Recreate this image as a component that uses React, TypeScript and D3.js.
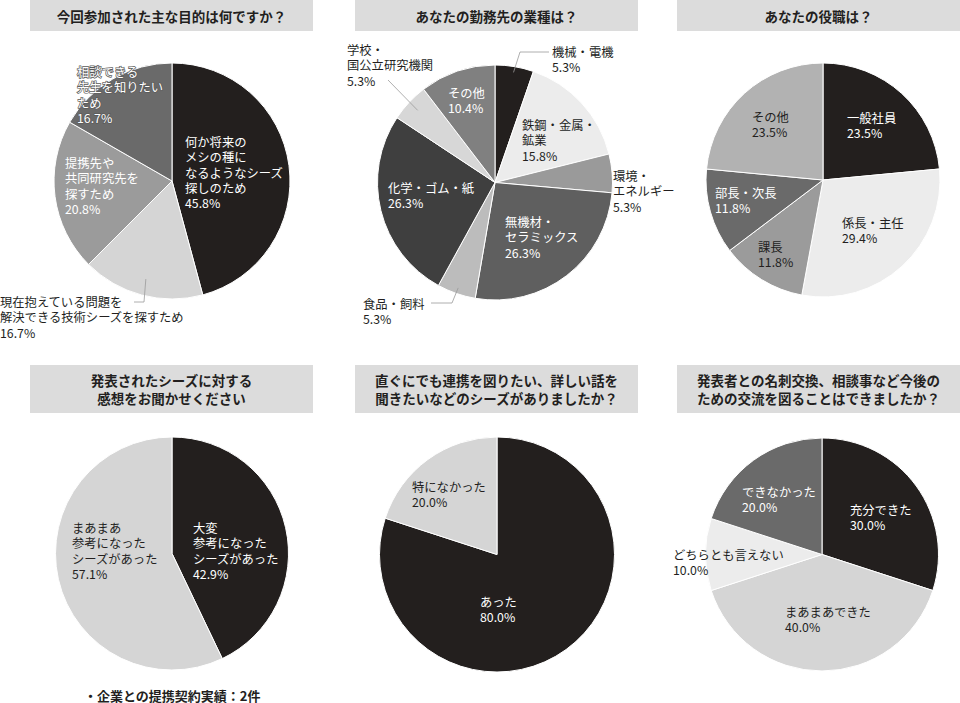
import * as d3 from "d3";

// ---- data ----
const q1Title = ["今回参加された主な目的は何ですか？"];
const q1Categories = [
  ["何か将来の", "メシの種に", "なるようなシーズ", "探しのため"],
  ["現在抱えている問題を", "解決できる技術シーズを探すため"],
  ["提携先や", "共同研究先を", "探すため"],
  ["相談できる", "先生を知りたい", "ため"],
];
const q1Values = [45.8, 16.7, 20.8, 16.7];

const q2Title = ["あなたの勤務先の業種は？"];
const q2Categories = [
  ["機械・電機"],
  ["鉄鋼・金属・", "鉱業"],
  ["環境・", "エネルギー"],
  ["無機材・", "セラミックス"],
  ["食品・飼料"],
  ["化学・ゴム・紙"],
  ["学校・", "国公立研究機関"],
  ["その他"],
];
const q2Values = [5.3, 15.8, 5.3, 26.3, 5.3, 26.3, 5.3, 10.4];

const q3Title = ["あなたの役職は？"];
const q3Categories = [["一般社員"], ["係長・主任"], ["課長"], ["部長・次長"], ["その他"]];
const q3Values = [23.5, 29.4, 11.8, 11.8, 23.5];

const q4Title = ["発表されたシーズに対する", "感想をお聞かせください"];
const q4Categories = [
  ["大変", "参考になった", "シーズがあった"],
  ["まあまあ", "参考になった", "シーズがあった"],
];
const q4Values = [42.9, 57.1];
const q4Note = "・企業との提携契約実績：2件";

const q5Title = ["直ぐにでも連携を図りたい、詳しい話を", "聞きたいなどのシーズがありましたか？"];
const q5Categories = [["あった"], ["特になかった"]];
const q5Values = [80.0, 20.0];

const q6Title = ["発表者との名刺交換、相談事など今後の", "ための交流を図ることはできましたか？"];
const q6Categories = [["充分できた"], ["まあまあできた"], ["どちらとも言えない"], ["できなかった"]];
const q6Values = [30.0, 40.0, 10.0, 20.0];

// ---- layout / style ----
const INK = "#231f1e";
const WHITE = "#ffffff";
const FONT = '"Noto Sans CJK JP", "Noto Sans", sans-serif';
const LINE_H = 15.3;

interface LabelPos {
  x: number;
  y: number;
  color: string;
  outline?: string;
  leader?: { from: [number, number]; elbow?: [number, number]; depth: number };
}

interface Panel {
  title: string[];
  categories: string[][];
  values: number[];
  colors: string[];
  cx: number;
  cy: number;
  r: number;
  box: [number, number, number, number];
  labels: LabelPos[];
}

const panels: Panel[] = [
  {
    title: q1Title,
    categories: q1Categories,
    values: q1Values,
    colors: [INK, "#d5d5d5", "#9b9b9b", "#6a6a6a"],
    cx: 172,
    cy: 181,
    r: 118,
    box: [30, 0, 283, 31],
    labels: [
      { x: 185, y: 142, color: WHITE },
      { x: 0, y: 302, color: INK, leader: { from: [134, 302], elbow: [144, 302], depth: 0.86 } },
      { x: 65, y: 163, color: WHITE },
      // this label spills past the pie edge, the original keeps it readable with a dark rim
      { x: 77, y: 72, color: WHITE, outline: "#5a5a5a" },
    ],
  },
  {
    title: q2Title,
    categories: q2Categories,
    values: q2Values,
    colors: [INK, "#ececec", "#9a9a9a", "#5f5f5f", "#bcbcbc", "#3f3f3f", "#d7d7d7", "#808080"],
    cx: 495,
    cy: 182.5,
    r: 117.5,
    box: [355, 0, 283, 31],
    labels: [
      { x: 552, y: 52, color: INK, leader: { from: [549, 52], elbow: [520, 52], depth: 0.95 } },
      { x: 522, y: 125, color: INK },
      { x: 613, y: 176, color: INK, leader: { from: [611, 176], depth: 0.92 } },
      { x: 505, y: 222, color: WHITE },
      { x: 363, y: 304, color: INK, leader: { from: [431, 303], elbow: [452, 303], depth: 0.95 } },
      { x: 388, y: 188, color: WHITE },
      { x: 347, y: 50, color: INK, leader: { from: [388, 80], depth: 0.9 } },
      { x: 448, y: 93, color: WHITE },
    ],
  },
  {
    title: q3Title,
    categories: q3Categories,
    values: q3Values,
    colors: [INK, "#ececec", "#9b9b9b", "#6a6a6a", "#b2b2b2"],
    cx: 823,
    cy: 180,
    r: 117,
    box: [677, 0, 283, 31],
    labels: [
      { x: 847, y: 118, color: WHITE },
      { x: 842, y: 223, color: INK },
      { x: 758, y: 247, color: INK },
      { x: 715, y: 193, color: WHITE },
      { x: 752, y: 117, color: INK },
    ],
  },
  {
    title: q4Title,
    categories: q4Categories,
    values: q4Values,
    colors: [INK, "#d5d5d5"],
    cx: 172,
    cy: 553.5,
    r: 116.5,
    box: [30, 365, 283, 48],
    labels: [
      { x: 193, y: 528, color: WHITE },
      { x: 72, y: 528, color: INK },
    ],
  },
  {
    title: q5Title,
    categories: q5Categories,
    values: q5Values,
    colors: [INK, "#d5d5d5"],
    cx: 497,
    cy: 554.5,
    r: 117.5,
    box: [355, 365, 283, 48],
    labels: [
      { x: 480, y: 602, color: WHITE },
      { x: 412, y: 487, color: INK },
    ],
  },
  {
    title: q6Title,
    categories: q6Categories,
    values: q6Values,
    colors: [INK, "#d5d5d5", "#ececec", "#6a6a6a"],
    cx: 822,
    cy: 554.5,
    r: 116.5,
    box: [677, 365, 283, 48],
    labels: [
      { x: 850, y: 510, color: WHITE },
      { x: 785, y: 612, color: INK },
      { x: 673, y: 555, color: INK },
      { x: 742, y: 492, color: WHITE },
    ],
  },
];

const pie = d3
  .pie<number>()
  .value((d) => d)
  .sort(null);

const PiePanel = ({ p }: { p: Panel }) => {
  const arcs = pie(p.values);
  const arc = d3.arc<d3.PieArcDatum<number>>().innerRadius(0).outerRadius(p.r);
  const [bx, by, bw, bh] = p.box;
  const titleTop = by + bh / 2 - ((p.title.length - 1) * 18) / 2;

  return (
    <g>
      <rect x={bx} y={by} width={bw} height={bh} fill="#dcdcdc" />
      {p.title.map((t, i) => (
        <text
          key={i}
          x={bx + bw / 2}
          y={titleTop + i * 18}
          textAnchor="middle"
          dominantBaseline="central"
          fontSize={13.5}
          fontWeight="bold"
          fill={INK}
        >
          {t}
        </text>
      ))}
      <g transform={`translate(${p.cx},${p.cy})`}>
        {arcs.map((a, i) => (
          <path key={i} d={arc(a) ?? ""} fill={p.colors[i]} stroke="#fff" strokeWidth={1} />
        ))}
      </g>
      {arcs.map((a, i) => {
        const lp = p.labels[i];
        const lines = [...p.categories[i], `${p.values[i].toFixed(1)}%`];
        let leader = null;
        if (lp.leader) {
          const mid = (a.startAngle + a.endAngle) / 2;
          const rr = p.r * lp.leader.depth;
          const ex = p.cx + Math.sin(mid) * rr;
          const ey = p.cy - Math.cos(mid) * rr;
          const pts: [number, number][] = [lp.leader.from];
          if (lp.leader.elbow) pts.push(lp.leader.elbow);
          pts.push([ex, ey]);
          leader = <path d={d3.line()(pts) ?? ""} fill="none" stroke="#9a9a9a" strokeWidth={0.8} />;
        }
        return (
          <g key={i}>
            {leader}
            {lines.map((t, j) => (
              <text
                key={j}
                x={lp.x}
                y={lp.y + j * LINE_H}
                dominantBaseline="central"
                fontSize={12.3}
                fill={lp.color}
                stroke={lp.outline}
                strokeWidth={lp.outline ? 1.4 : undefined}
                paintOrder="stroke"
              >
                {t}
              </text>
            ))}
          </g>
        );
      })}
    </g>
  );
};

export default function App() {
  return (
    <svg
      width={960}
      height={703}
      style={{ position: "absolute", left: 0, top: 0, background: "#fff", fontFamily: FONT }}
    >
      {panels.map((p, i) => (
        <PiePanel key={i} p={p} />
      ))}
      <text x={84} y={695} dominantBaseline="central" fontSize={13} fontWeight="bold" fill={INK}>
        {q4Note}
      </text>
    </svg>
  );
}
